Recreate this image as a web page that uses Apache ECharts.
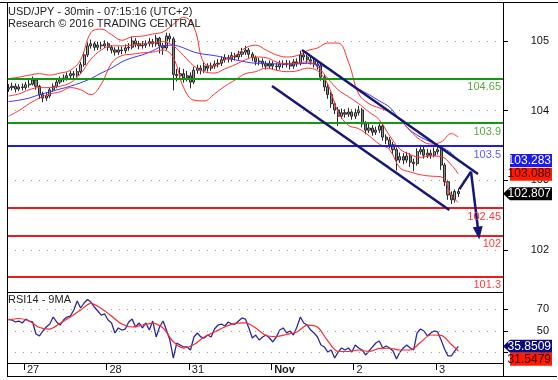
<!DOCTYPE html>
<html><head><meta charset="utf-8">
<script src="https://cdn.jsdelivr.net/npm/echarts@6/dist/echarts.min.js"></script>
<style>html,body{margin:0;padding:0;background:#fff}#c{width:558px;height:380px}</style>
</head><body><div id="c"></div>
<script>
// Time unit: hours counted from Oct 26 00:00 with the weekend removed. Bar i sits at firstBarHour + i.
const firstBarHour = 19.5;
const opens = [104.31,104.33,104.35,104.31,104.34,104.33,104.37,104.38,104.44,104.35,
104.23,104.18,104.21,104.30,104.35,104.41,104.44,104.47,104.50,104.53,
104.51,104.56,104.66,104.80,104.93,104.96,104.91,104.94,104.93,104.96,
104.91,104.87,104.84,104.87,104.86,104.90,104.91,105.00,104.96,104.93,
104.94,104.96,104.99,104.96,105.04,104.93,104.90,105.07,105.03,104.52,
104.50,104.53,104.47,104.50,104.41,104.58,104.61,104.58,104.64,104.61,
104.64,104.67,104.68,104.73,104.76,104.74,104.79,104.77,104.81,104.84,
104.87,104.81,104.76,104.70,104.71,104.67,104.64,104.67,104.64,104.63,
104.67,104.66,104.68,104.64,104.70,104.68,104.80,104.77,104.73,104.71,
104.67,104.64,104.48,104.34,104.23,104.10,104.01,103.92,103.97,103.95,
103.98,103.92,103.97,104.01,103.81,103.72,103.75,103.69,103.72,103.78,
103.62,103.58,103.51,103.44,103.29,103.34,103.29,103.35,103.26,103.24,
103.41,103.44,103.36,103.39,103.36,103.41,103.44,103.22,102.98,102.79,
102.72,102.84];
const closes = [104.33,104.35,104.31,104.34,104.33,104.37,104.38,104.44,104.35,104.23,
104.18,104.21,104.30,104.35,104.41,104.44,104.47,104.50,104.53,104.51,
104.56,104.66,104.80,104.93,104.96,104.91,104.94,104.93,104.96,104.91,
104.87,104.84,104.87,104.86,104.90,104.91,105.00,104.96,104.93,104.94,
104.96,104.99,104.96,105.04,104.93,104.90,105.07,105.03,104.52,104.50,
104.53,104.47,104.50,104.41,104.58,104.61,104.58,104.64,104.61,104.64,
104.67,104.68,104.73,104.76,104.74,104.79,104.77,104.81,104.84,104.87,
104.81,104.76,104.70,104.71,104.67,104.64,104.67,104.64,104.63,104.67,
104.66,104.68,104.64,104.70,104.68,104.80,104.77,104.73,104.71,104.67,
104.64,104.48,104.34,104.23,104.10,104.01,103.92,103.97,103.95,103.98,
103.92,103.97,104.01,103.81,103.72,103.75,103.69,103.72,103.78,103.62,
103.58,103.51,103.44,103.29,103.34,103.29,103.35,103.26,103.24,103.41,
103.44,103.36,103.39,103.36,103.41,103.44,103.22,102.98,102.79,102.72,
102.84,102.81];
const highs = [104.38,104.40,104.39,104.38,104.39,104.41,104.44,104.49,104.46,104.37,
104.27,104.26,104.33,104.39,104.45,104.49,104.52,104.55,104.57,104.57,
104.61,104.70,104.84,104.98,105.02,104.99,104.99,104.99,105.01,104.99,
104.94,104.91,104.92,104.92,104.95,104.97,105.06,105.04,105.00,105.00,
105.01,105.04,105.03,105.09,105.06,104.97,105.12,105.11,105.06,104.60,
104.62,104.60,104.57,104.55,104.63,104.66,104.65,104.69,104.68,104.69,
104.72,104.74,104.78,104.81,104.80,104.84,104.83,104.86,104.90,104.93,
104.90,104.84,104.79,104.76,104.75,104.71,104.72,104.71,104.69,104.72,
104.72,104.73,104.72,104.74,104.75,104.86,104.84,104.80,104.77,104.75,
104.72,104.67,104.51,104.38,104.27,104.13,104.05,104.03,104.02,104.04,
104.02,104.03,104.07,104.04,103.85,103.81,103.79,103.77,103.84,103.81,
103.66,103.62,103.55,103.47,103.40,103.39,103.41,103.39,103.31,103.46,
103.51,103.48,103.45,103.44,103.47,103.51,103.47,103.25,103.01,102.84,
102.87,102.88];
const lows = [104.27,104.29,104.26,104.28,104.29,104.30,104.33,104.36,104.30,104.17,
104.12,104.14,104.18,104.27,104.32,104.38,104.41,104.43,104.46,104.46,
104.48,104.53,104.63,104.77,104.89,104.86,104.87,104.88,104.90,104.86,
104.82,104.79,104.80,104.81,104.82,104.86,104.88,104.91,104.88,104.89,
104.90,104.92,104.91,104.92,104.82,104.80,104.87,104.98,104.29,104.42,
104.44,104.40,104.42,104.32,104.38,104.53,104.52,104.54,104.56,104.57,
104.60,104.62,104.64,104.69,104.69,104.70,104.72,104.73,104.77,104.80,
104.76,104.71,104.65,104.65,104.62,104.59,104.60,104.59,104.58,104.59,
104.61,104.62,104.59,104.60,104.63,104.65,104.72,104.68,104.66,104.62,
104.59,104.43,104.28,104.17,104.04,103.95,103.78,103.88,103.90,103.91,
103.87,103.88,103.93,103.76,103.66,103.68,103.64,103.65,103.68,103.57,
103.52,103.46,103.37,103.14,103.25,103.23,103.25,103.19,103.13,103.21,
103.37,103.31,103.32,103.31,103.33,103.37,103.15,102.92,102.72,102.66,
102.68,102.76];
const rsi = [61.0,60.1,58.3,59.2,57.4,61.0,59.2,58.3,47.2,45.4,
50.0,53.7,56.4,62.9,58.3,55.5,60.1,62.9,63.8,69.4,
77.7,71.2,75.8,79.0,76.7,72.1,68.4,64.7,65.7,60.1,
57.4,48.2,52.8,50.9,51.8,58.3,61.0,53.7,57.4,52.8,
57.4,50.9,59.2,44.5,53.7,59.2,50.9,41.7,25.1,38.9,
37.1,35.3,35.3,32.5,44.5,48.2,44.5,43.5,46.3,44.5,
51.8,55.5,56.4,54.6,58.3,56.4,56.4,59.2,62.0,61.0,
52.8,43.5,46.3,41.7,44.5,46.3,43.5,39.9,44.5,50.9,
52.8,48.2,50.0,46.3,53.7,62.9,57.4,55.5,50.9,48.2,
44.5,37.1,35.3,30.6,32.5,25.1,30.6,34.3,32.5,34.3,
30.6,37.1,34.3,32.5,27.9,31.6,35.3,38.9,40.8,34.3,
36.2,34.3,31.6,24.2,30.6,34.3,37.1,34.3,32.5,48.2,
51.8,50.0,45.4,48.2,50.0,49.1,41.7,33.4,27.0,27.0,
31.6,35.85];
// indicator lines read every 3 hours
const sampleHours = [19.5,22.5,25.5,28.5,31.5,34.5,37.5,40.5,43.5,46.5,49.5,52.5,55.5,58.5,61.5,64.5,67.5,70.5,73.5,76.5,79.5,82.5,85.5,88.5,91.5,94.5,97.5,100.5,103.5,106.5,109.5,112.5,115.5,118.5,121.5,124.5,127.5,130.5,133.5,136.5,139.5,142.5,145.5,148.5,150.5];
const bbUpper = [104.46,104.48,104.51,104.53,104.51,104.54,104.58,104.73,105.12,105.17,105.09,105.01,105.06,105.07,105.10,105.13,105.24,105.34,105.20,104.68,104.64,104.73,104.79,104.90,104.94,104.87,104.80,104.77,104.79,104.86,104.90,104.97,104.97,104.70,104.24,104.10,104.04,103.98,103.87,103.71,103.58,103.52,103.55,103.67,103.62];
const bbMiddle = [104.21,104.24,104.30,104.33,104.33,104.35,104.40,104.53,104.74,104.87,104.93,104.93,104.94,104.96,104.97,104.99,104.93,104.79,104.64,104.56,104.54,104.60,104.66,104.73,104.77,104.76,104.70,104.67,104.68,104.70,104.63,104.46,104.30,104.20,104.10,103.98,103.87,103.64,103.45,103.37,103.33,103.35,103.34,103.22,103.09];
const bbLower = [103.92,104.00,104.10,104.18,104.24,104.27,104.33,104.30,104.23,104.38,104.68,104.79,104.81,104.83,104.84,104.87,104.76,104.33,104.15,104.14,104.24,104.35,104.44,104.53,104.56,104.61,104.58,104.56,104.57,104.61,104.57,104.38,103.98,103.79,103.74,103.64,103.52,103.44,103.18,103.12,103.08,103.06,103.05,102.79,102.68];
const maBlue = [104.13,104.15,104.18,104.23,104.27,104.31,104.35,104.40,104.46,104.54,104.61,104.70,104.76,104.80,104.86,104.93,104.94,104.90,104.84,104.81,104.79,104.76,104.73,104.70,104.68,104.68,104.67,104.67,104.67,104.68,104.66,104.61,104.50,104.41,104.31,104.23,104.14,104.05,103.87,103.72,103.62,103.55,103.48,103.39,103.28];
const rsiMa = [60.1,61.5,59.2,53.2,51.8,57.1,62.9,69.4,75.4,70.7,63.8,56.4,53.7,55.5,57.1,52.8,40.1,34.3,37.5,44.5,49.1,53.7,57.1,57.5,52.8,45.9,44.9,46.8,49.1,55.5,53.7,40.8,31.1,31.1,32.5,31.1,33.9,34.1,32.5,32.5,39.5,46.3,45.9,37.5,31.55];
const dayTicks = [24,48,72,96,120,144];
const dayLabels = ['27','28','31','Nov','2','3'];
const priceTicks = [102,103,104,105];
const rsiTicks = [30,50,70];
const levelValues = [104.46,103.82,103.49,102.60,102.21,101.62];
const levelLabels = ['104.65','103.9','103.5','102.45','102','101.3'];
const channelUpper = [[104.98,104.871],[156.25,103.091]];
const channelLower = [[96.24,104.354],[147.89,102.574]];
const projection = [[150.80,102.871],[154.21,103.124],[156.39,102.244]];
const lastPrice = 102.807, lastMaBlue = 103.283, lastBbMid = 103.088;
const lastRsi = 35.8509, lastRsiMa = 31.5479;

const levelColors = ['#129912','#129912','#1d1de6','#ee1a1a','#ee1a1a','#ee1a1a'];
const levelTextColors = ['#5aa83c','#5aa83c','#5c5cff','#ff3a3a','#ff3a3a','#ff3a3a'];
const FONT = '"Liberation Sans", Arial, sans-serif';

const chart = echarts.init(document.getElementById('c'), null, {renderer:'canvas'});
const xRange = {min: 19.05, max: 163.53};
const pairs = (xs, ys) => ys.map((v, i) => [xs[i], v]);

const option = {
  animation: false,
  backgroundColor: '#fff',
  textStyle: {fontFamily: FONT},
  grid: [
    {left: 7, right: 55, top: 3, bottom: 88, containLabel: false},
    {left: 7, right: 55, top: 292, bottom: 17, containLabel: false}
  ],
  xAxis: [
    {type: 'value', gridIndex: 0, ...xRange, show: false},
    {type: 'value', gridIndex: 1, ...xRange,
     axisLine: {show: false}, splitLine: {show: false},
     axisTick: {show: true, customValues: dayTicks, length: 7, lineStyle: {color: '#000'}},
     axisLabel: {customValues: dayTicks, align: 'left', margin: 1, padding: [0,0,0,3],
       fontSize: 11, color: '#222', fontFamily: FONT,
       formatter: v => { const i = dayTicks.indexOf(v); const t = dayLabels[i]; return t === 'Nov' ? '{b|Nov}' : t; },
       rich: {b: {fontWeight: 'bold', fontSize: 11, color: '#222', fontFamily: FONT}}}}
  ],
  yAxis: [
    {type: 'value', gridIndex: 0, position: 'right', min: 101.397, max: 105.545,
     axisLine: {show: false}, splitLine: {show: false},
     axisTick: {show: true, customValues: priceTicks, length: 5, lineStyle: {color: '#000'}},
     axisLabel: {customValues: priceTicks, align: 'right', margin: 46, fontSize: 11, color: '#111', fontFamily: FONT}},
    {type: 'value', gridIndex: 1, position: 'right', min: 20.51, max: 85.94,
     axisLine: {show: false}, splitLine: {show: false},
     axisTick: {show: true, customValues: rsiTicks, length: 5, lineStyle: {color: '#000'}},
     axisLabel: {customValues: rsiTicks, align: 'right', margin: 46, fontSize: 11, color: '#111', fontFamily: FONT}}
  ],
  series: [
    {type: 'line', xAxisIndex: 0, yAxisIndex: 0, data: [], z: 1,
     markLine: {silent: true, symbol: 'none', label: {show: false},
       lineStyle: {type: [1, 7], color: '#9a9a9a', width: 1},
       data: priceTicks.map(v => ({yAxis: v}))}},
    {type: 'candlestick', name: 'USD/JPY', xAxisIndex: 0, yAxisIndex: 0, z: 2,
     barWidth: 2.6,
     encode: {x: 0, y: [1, 2, 3, 4]},
     data: opens.map((o, i) => [firstBarHour + i, o, closes[i], lows[i], highs[i]]),
     itemStyle: {color: '#a6a6a6', color0: '#8a8a8a', borderColor: '#2a2a2a', borderColor0: '#2a2a2a', borderWidth: 1}},
    {type: 'line', name: 'MA', xAxisIndex: 0, yAxisIndex: 0, z: 3, showSymbol: false, smooth: 0.3,
     data: pairs(sampleHours, maBlue), lineStyle: {color: '#3838ff', width: 1}},
    {type: 'line', name: 'BB up', xAxisIndex: 0, yAxisIndex: 0, z: 3, showSymbol: false, smooth: 0.4,
     data: pairs(sampleHours, bbUpper), lineStyle: {color: '#ff3030', width: 1}},
    {type: 'line', name: 'BB mid', xAxisIndex: 0, yAxisIndex: 0, z: 3, showSymbol: false, smooth: 0.4,
     data: pairs(sampleHours, bbMiddle), lineStyle: {color: '#ff3030', width: 1}},
    {type: 'line', name: 'BB low', xAxisIndex: 0, yAxisIndex: 0, z: 3, showSymbol: false, smooth: 0.4,
     data: pairs(sampleHours, bbLower), lineStyle: {color: '#ff3030', width: 1}},
    {type: 'line', xAxisIndex: 0, yAxisIndex: 0, data: [], z: 4,
     markLine: {silent: true, symbol: 'none',
       data: levelValues.map((v, i) => ({yAxis: v,
         lineStyle: {color: levelColors[i], width: 2, type: 'solid'},
         label: {show: true, formatter: levelLabels[i], position: 'insideEndBottom', distance: [2, 3],
                 color: levelTextColors[i], fontSize: 11, fontFamily: FONT}}))}},
    {type: 'line', xAxisIndex: 0, yAxisIndex: 0, data: [], z: 5,
     markLine: {silent: true, symbol: 'none', label: {show: false},
       lineStyle: {color: '#16167a', width: 2.5, type: 'solid'},
       data: [
         [{coord: channelUpper[0]}, {coord: channelUpper[1]}],
         [{coord: channelLower[0]}, {coord: channelLower[1]}],
         [{coord: projection[0]}, {coord: projection[1]}],
         [{coord: projection[1], symbol: 'none'}, {coord: projection[2], symbol: 'triangle', symbolSize: [10, 13]}]
       ]}},
    {type: 'line', xAxisIndex: 1, yAxisIndex: 1, data: [], z: 1,
     markLine: {silent: true, symbol: 'none', label: {show: false},
       lineStyle: {type: [1, 7], color: '#9a9a9a', width: 1},
       data: rsiTicks.map(v => ({yAxis: v}))}},
    {type: 'line', name: 'RSI14', xAxisIndex: 1, yAxisIndex: 1, z: 3, showSymbol: false,
     data: rsi.map((v, i) => [firstBarHour + i, v]), lineStyle: {color: '#2b2b9c', width: 1.3}},
    {type: 'line', name: '9MA', xAxisIndex: 1, yAxisIndex: 1, z: 3, showSymbol: false, smooth: 0.3,
     data: pairs(sampleHours, rsiMa), lineStyle: {color: '#ff2a2a', width: 1.2}}
  ]
};
chart.setOption(option);

function tag(yc, text, bg, fg, arrow) {
  const x0 = 510, x1 = 552, h = 13;
  const shapeEl = arrow
    ? {type: 'polygon', shape: {points: [[503, yc], [510, yc - h / 2], [x1, yc - h / 2], [x1, yc + h / 2], [510, yc + h / 2]]}, style: {fill: bg}}
    : {type: 'rect', shape: {x: x0, y: yc - h / 2, width: x1 - x0, height: h}, style: {fill: bg}};
  return [shapeEl, {type: 'text', x: x1 - 1, y: yc, style: {text: text, fill: fg, font: '12px ' + FONT, align: 'right', verticalAlign: 'middle'}}]
    .map(e => Object.assign(e, {z: 100}));
}
const py = v => chart.convertToPixel({yAxisIndex: 0}, v);
const ry = v => chart.convertToPixel({yAxisIndex: 1}, v);
let yMa = py(lastMaBlue), yMid = Math.max(py(lastBbMid), yMa + 13), yLast = Math.max(py(lastPrice), yMid + 13);
let yR = ry(lastRsi), yRm = Math.max(ry(lastRsiMa), yR + 13);

const ln = (x1, y1, x2, y2) => ({type: 'line', z: 90, shape: {x1, y1, x2, y2}, style: {stroke: '#000', lineWidth: 1}});
const graphics = [
  ln(0, 2.5, 558, 2.5), ln(7.5, 2, 7.5, 377), ln(7, 376.5, 557, 376.5),
  ln(503.5, 3, 503.5, 376), ln(7, 292.5, 503, 292.5), ln(7, 363.5, 503, 363.5),
  {type: 'text', x: 8, y: 6, z: 95, style: {text: 'USD/JPY - 30min - 07:15:16 (UTC+2)', font: '11px ' + FONT, fill: '#222'}},
  {type: 'text', x: 8, y: 18, z: 95, style: {text: 'Research © 2016 TRADING CENTRAL', font: '11px ' + FONT, fill: '#222'}},
  {type: 'text', x: 8, y: 294, z: 95, style: {text: 'RSI14 - 9MA', font: '11px ' + FONT, fill: '#222'}},
  ...tag(yMa, lastMaBlue.toFixed(3), '#1c1cf2', '#fff', false),
  ...tag(yMid, lastBbMid.toFixed(3), '#ff1a00', '#3a0000', false),
  ...tag(yLast, lastPrice.toFixed(3), '#000', '#fff', true),
  ...tag(yR, lastRsi.toFixed(4), '#0c0c7a', '#fff', true),
  ...tag(yRm, lastRsiMa.toFixed(4), '#ff1a00', '#3a0000', false)
];
chart.setOption({graphic: graphics});
</script></body></html>
